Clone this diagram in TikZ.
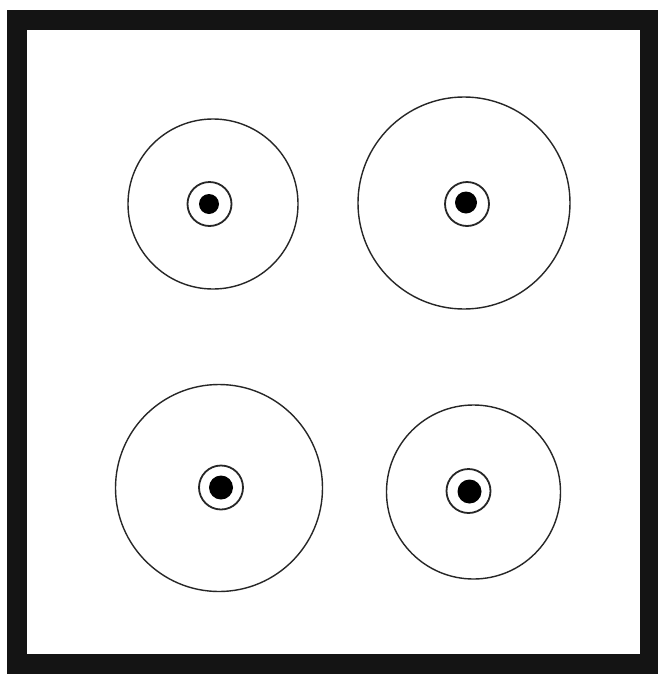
\documentclass[tikz,border=0pt]{standalone}
\begin{document}
\begin{tikzpicture}[x=1pt,y=-1pt,
  big/.style={circle,draw=black!85,line width=1.4pt,inner sep=0pt},
  ring/.style={circle,draw=black!85,line width=1.8pt,inner sep=0pt,minimum size=44pt},
  dot/.style={circle,fill=black,inner sep=0pt,minimum size=22pt}]
\useasboundingbox (0,0) rectangle (657,675);
\fill[white] (0,0) rectangle (657,675);
\draw[line width=20pt,black!92] (17,19.5) rectangle (650,664);
% top-left
\node[big,minimum size=170pt] (c1) at (213,204) {};
\node[ring] (r1) at (209.5,204) {};
\node[dot,minimum size=20pt] (d1) at (209,204) {};
% top-right
\node[big,minimum size=212pt] (c2) at (464,203) {};
\node[ring] (r2) at (467,204) {};
\node[dot] (d2) at (466,202.5) {};
% bottom-left
\node[big,minimum size=207pt] (c3) at (219,488) {};
\node[ring] (r3) at (221,487.5) {};
\node[dot,minimum size=24pt] (d3) at (221,487.5) {};
% bottom-right
\node[big,minimum size=174pt] (c4) at (473.5,492) {};
\node[ring] (r4) at (468.5,491) {};
\node[dot,minimum size=24pt] (d4) at (469.5,491.5) {};
\end{tikzpicture}
\end{document}
